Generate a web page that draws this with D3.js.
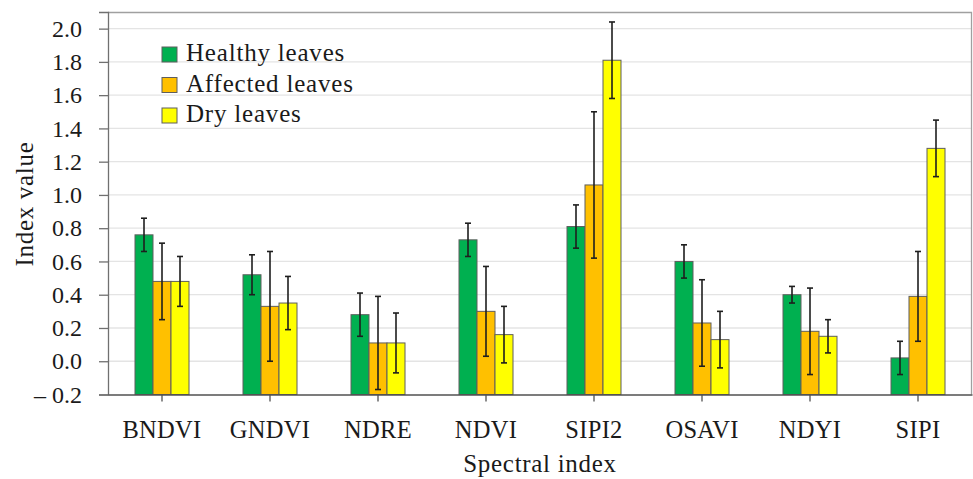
<!DOCTYPE html>
<html>
<head>
<meta charset="utf-8">
<script src="https://cdn.jsdelivr.net/npm/d3@7"></script>
<style>
  body { margin: 0; background: #fff; }
  svg text { font-family: "Liberation Serif", serif; fill: #1a1a1a; }
</style>
</head>
<body>
<div id="chart"></div>
<script>
// Data
const categories = ['BNDVI', 'GNDVI', 'NDRE', 'NDVI', 'SIPI2', 'OSAVI', 'NDYI', 'SIPI'];
const seriesNames = ['Healthy leaves', 'Affected leaves', 'Dry leaves'];
const healthy = [0.76, 0.52, 0.28, 0.73, 0.81, 0.60, 0.40, 0.02];
const affected = [0.48, 0.33, 0.11, 0.30, 1.06, 0.23, 0.18, 0.39];
const dry = [0.48, 0.35, 0.11, 0.16, 1.81, 0.13, 0.15, 1.28];
const healthyErr = [0.10, 0.12, 0.13, 0.10, 0.13, 0.10, 0.05, 0.10];
const affectedErr = [0.23, 0.33, 0.28, 0.27, 0.44, 0.26, 0.26, 0.27];
const dryErr = [0.15, 0.16, 0.18, 0.17, 0.23, 0.17, 0.10, 0.17];
const yTicks = [-0.2, 0, 0.2, 0.4, 0.6, 0.8, 1.0, 1.2, 1.4, 1.6, 1.8, 2.0];
const colors = ['#00b050', '#ffc000', '#ffff00'];

const values = [healthy, affected, dry];
const errors = [healthyErr, affectedErr, dryErr];

const W = 973, H = 479;
const margin = {left: 108, right: 1, top: 12, bottom: 84.5};
const plotW = W - margin.left - margin.right;
const plotH = H - margin.top - margin.bottom;

const svg = d3.select('#chart').append('svg')
    .attr('width', W)
    .attr('height', H);

const g = svg.append('g')
    .attr('transform', `translate(${margin.left},${margin.top})`);

const x = d3.scaleBand()
    .domain(categories)
    .range([0, plotW])
    .paddingInner(0.5)
    .paddingOuter(0.25);

const xs = d3.scaleBand()
    .domain(d3.range(seriesNames.length))
    .range([0, x.bandwidth()]);

const y = d3.scaleLinear()
    .domain([-0.2, 2.1])
    .range([plotH, 0]);

// gridlines
g.selectAll('.grid')
    .data(yTicks.filter(d => d > -0.2))
    .enter()
    .append('line')
    .attr('class', 'grid')
    .attr('x1', 0).attr('x2', plotW)
    .attr('y1', d => y(d)).attr('y2', d => y(d))
    .attr('stroke', '#e4e4e4')
    .attr('stroke-width', 1.3);

// frame (top + right)
g.append('path')
    .attr('d', `M0,0.5H${plotW - 0.5}V${plotH}`)
    .attr('fill', 'none')
    .attr('stroke', '#a0a0a0')
    .attr('stroke-width', 1.3);

// bars
const groups = g.selectAll('.grp')
    .data(categories)
    .enter()
    .append('g')
    .attr('class', 'grp')
    .attr('transform', d => `translate(${x(d)},0)`);

seriesNames.forEach((s, si) => {
    groups.append('rect')
        .attr('x', xs(si))
        .attr('y', (d, i) => y(values[si][i]))
        .attr('width', xs.bandwidth())
        .attr('height', (d, i) => y(-0.2) - y(values[si][i]))
        .attr('fill', colors[si])
        .attr('stroke', '#5e5e5e')
        .attr('stroke-width', 1);
});

// error bars
seriesNames.forEach((s, si) => {
    const cx = xs(si) + xs.bandwidth() / 2;
    const eb = groups.append('g').attr('stroke', '#1e1e1e').attr('stroke-width', 1.6);
    eb.append('line')
        .attr('x1', cx).attr('x2', cx)
        .attr('y1', (d, i) => y(values[si][i] + errors[si][i]))
        .attr('y2', (d, i) => y(values[si][i] - errors[si][i]));
    [1, -1].forEach(sign => {
        eb.append('line')
            .attr('x1', cx - 3).attr('x2', cx + 3)
            .attr('y1', (d, i) => y(values[si][i] + sign * errors[si][i]))
            .attr('y2', (d, i) => y(values[si][i] + sign * errors[si][i]));
    });
});

// y axis
const yAxis = g.append('g')
    .call(d3.axisLeft(y)
        .tickValues(yTicks)
        .tickSize(9)
        .tickPadding(17)
        .tickFormat(d => d < 0 ? '\u2013 ' + d3.format('.1f')(-d) : d3.format('.1f')(d)));
yAxis.select('.domain').attr('stroke', '#707070').attr('stroke-width', 1.3);
yAxis.selectAll('.tick line').attr('stroke', '#707070').attr('stroke-width', 1.3);
yAxis.selectAll('text').style('font-size', '24px').attr('fill', '#1a1a1a');

// x axis
const xAxis = g.append('g')
    .attr('transform', `translate(0,${plotH})`)
    .call(d3.axisBottom(x).tickSize(7).tickSizeOuter(0));
xAxis.select('.domain').attr('stroke', '#505050').attr('stroke-width', 1.3);
xAxis.selectAll('.tick line').attr('stroke', '#505050').attr('stroke-width', 1.3);
xAxis.selectAll('text')
    .attr('y', 43.5).attr('dy', 0)
    .style('font-size', '24.5px')
    .style('letter-spacing', '0.3px')
    .attr('fill', '#1a1a1a');

// axis titles
svg.append('text')
    .attr('x', margin.left + plotW / 2)
    .attr('y', 472)
    .attr('text-anchor', 'middle')
    .style('font-size', '25px')
    .style('letter-spacing', '0.7px')
    .text('Spectral index');

svg.append('text')
    .attr('transform', 'translate(33,204) rotate(-90)')
    .attr('text-anchor', 'middle')
    .style('font-size', '25px')
    .style('letter-spacing', '0.7px')
    .text('Index value');

// legend
const legend = svg.append('g')
    .attr('transform', 'translate(162,47)');
seriesNames.forEach((s, si) => {
    const row = legend.append('g').attr('transform', `translate(0,${si * 30.5})`);
    row.append('rect')
        .attr('width', 15).attr('height', 15)
        .attr('fill', colors[si])
        .attr('stroke', '#5e5e5e')
        .attr('stroke-width', 1);
    row.append('text')
        .attr('x', 24)
        .attr('y', 14)
        .style('font-size', '25px')
        .style('letter-spacing', '0.8px')
        .text(s);
});
</script>
</body>
</html>
